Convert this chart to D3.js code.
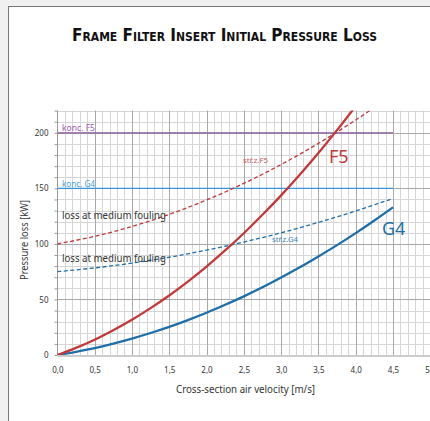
<!DOCTYPE html>
<html><head><meta charset="utf-8">
<script src="https://cdn.jsdelivr.net/npm/d3@7/dist/d3.min.js"></script>
<style>html,body{margin:0;padding:0;background:#f0f0f0;}svg{display:block;}</style>
</head><body>
<svg id="c" width="430" height="421"></svg>
<script>
const velocity = [0,0.25,0.5,0.75,1.0,1.25,1.5,1.75,2.0,2.25,2.5,2.75,3.0,3.25,3.5,3.75,4.0,4.25,4.5];
const f5Initial = [0,6.4,13.8,22.3,31.7,42.2,53.6,66.1,79.6,94.1,109.6,126.2,143.7,162.3,181.8,202.4,224,null,null];
const g4Initial = [0,2.9,6.2,10.3,14.8,19.8,25.3,31.4,38,45.2,52.8,60.9,69.7,78.9,88.7,98.9,109.7,121.1,133];
const f5Medium = [100,103.2,106.8,111.0,115.7,120.9,126.6,132.8,139.5,146.7,154.5,162.7,171.5,180.7,190.5,200.8,211.5,222.9,null];
const g4Medium = [75,76.6,78.4,80.4,82.7,85.3,88.0,91.1,94.4,97.9,101.7,105.7,110.0,114.6,119.4,124.4,129.6,135.2,140.9];
const kondF5 = 200, kondG4 = 150, kondEnd = 4.5;
const xTicks = [0,0.5,1.0,1.5,2.0,2.5,3.0,3.5,4.0,4.5,5.0];
const yTicks = [0,50,100,150,200];

const svg = d3.select("#c");
const x = d3.scaleLinear().domain([0,5]).range([57.3,430.3]);
const y = d3.scaleLinear().domain([0,220]).range([355,110.6]);
const font = "'Noto Sans', 'Open Sans', sans-serif";

// frame
svg.append("rect").attr("x",0).attr("y",0).attr("width",430).attr("height",421).attr("fill","#f0f0f0");
svg.append("rect").attr("x",8.5).attr("y",6.5).attr("width",440).attr("height",430).attr("fill","#fff").attr("stroke","#777").attr("stroke-width",1);

// title
svg.append("text").attr("x",72).attr("y",41).attr("textLength",305).attr("lengthAdjust","spacingAndGlyphs")
  .style("font-family","'DejaVu Sans Condensed','Liberation Sans Narrow',sans-serif").style("font-weight","bold")
  .style("font-variant","small-caps").style("font-size","17px").attr("fill","#111")
  .text("Frame Filter Insert Initial Pressure Loss");

// grid
const g = svg.append("g");
const minorX = d3.range(0,51).map(d=>d/10);
const minorY = d3.range(0,23).map(d=>d*10);
g.selectAll(".vx").data(minorX.filter(d=>Math.round(d*10)%5!==0)).join("line")
  .attr("x1",d=>Math.round(x(d))+0.5).attr("x2",d=>Math.round(x(d))+0.5).attr("y1",y(220)).attr("y2",y(0))
  .attr("stroke","#d6d6d6").attr("stroke-width",1);
g.selectAll(".hy").data(minorY.filter(d=>d%50!==0)).join("line")
  .attr("x1",x(0)).attr("x2",x(5)).attr("y1",d=>Math.round(y(d))+0.5).attr("y2",d=>Math.round(y(d))+0.5)
  .attr("stroke","#d6d6d6").attr("stroke-width",1);
g.selectAll(".vX").data(xTicks.slice(1)).join("line")
  .attr("x1",d=>Math.round(x(d))+0.5).attr("x2",d=>Math.round(x(d))+0.5).attr("y1",y(220)).attr("y2",y(0))
  .attr("stroke","#a8a8a8").attr("stroke-width",1);
g.selectAll(".hY").data(yTicks.slice(1)).join("line")
  .attr("x1",x(0)).attr("x2",x(5)).attr("y1",d=>Math.round(y(d))+0.5).attr("y2",d=>Math.round(y(d))+0.5)
  .attr("stroke","#a8a8a8").attr("stroke-width",1);

// axes
const yAxis = d3.axisLeft(y).tickValues(minorY).tickSize(3).tickFormat(d=> d%50===0 ? d : "");
const ya = svg.append("g").attr("transform",`translate(${Math.round(x(0))+0.5},0)`).call(yAxis);
ya.select(".domain").attr("stroke","#999").attr("d",`M-0,${y(220)}V${y(0)}`);
ya.selectAll(".tick line").attr("stroke","#999");
ya.selectAll("text").attr("x",-9).style("font-family",font).style("font-size","8px").attr("fill","#333");
const xAxis = d3.axisBottom(x).tickValues(xTicks).tickSize(0).tickFormat(d=>d3.format(".1f")(d).replace(".",","));
const xa = svg.append("g").attr("transform",`translate(0,${Math.round(y(0))+0.5})`).call(xAxis);
xa.select(".domain").attr("stroke","#999");
xa.selectAll("text").attr("dy","0").attr("y",17).style("font-family",font).style("font-size","8px").attr("fill","#333");

// axis labels
svg.append("text").attr("transform","translate(27.5,240) rotate(-90)").attr("text-anchor","middle")
  .attr("textLength",80).attr("lengthAdjust","spacingAndGlyphs")
  .style("font-family",font).style("font-size","10px").attr("fill","#333").text("Pressure loss [kW]");
svg.append("text").attr("x",245.5).attr("y",393).attr("text-anchor","middle")
  .attr("textLength",139).attr("lengthAdjust","spacingAndGlyphs")
  .style("font-family",font).style("font-size","10px").attr("fill","#333").text("Cross-section air velocity [m/s]");

// clip
svg.append("clipPath").attr("id","pc").append("rect").attr("x",x(0)).attr("y",y(220)).attr("width",x(5)-x(0)).attr("height",y(0)-y(220));
const plot = svg.append("g").attr("clip-path","url(#pc)");

// limit lines
plot.append("line").attr("x1",x(0)).attr("x2",x(kondEnd)).attr("y1",y(kondF5)).attr("y2",y(kondF5)).attr("stroke","#8a559f").attr("stroke-width",1.3);
plot.append("line").attr("x1",x(0)).attr("x2",x(kondEnd)).attr("y1",y(kondG4)).attr("y2",y(kondG4)).attr("stroke","#3793dc").attr("stroke-width",1.3);

const line = d3.line().defined(d=>d[1]!==null).x(d=>x(d[0])).y(d=>y(d[1])).curve(d3.curveMonotoneX);
const pts = arr => velocity.map((v,i)=>[v,arr[i]]);
plot.append("path").attr("d",line(pts(f5Medium))).attr("fill","none").attr("stroke","#c0393b").attr("stroke-width",1.3).attr("stroke-dasharray","4,2.5");
plot.append("path").attr("d",line(pts(g4Medium))).attr("fill","none").attr("stroke","#1f6ea8").attr("stroke-width",1.3).attr("stroke-dasharray","4,2.5");
plot.append("path").attr("d",line(pts(g4Initial))).attr("fill","none").attr("stroke","#1f6ea8").attr("stroke-width",2.3);
plot.append("path").attr("d",line(pts(f5Initial))).attr("fill","none").attr("stroke","#c0393b").attr("stroke-width",2.3);

// labels
const lab = (t,xx,yy,size,col,len)=>{const s=svg.append("text").attr("x",xx).attr("y",yy).style("font-family",font).style("font-size",size).attr("fill",col).text(t); if(len) s.attr("textLength",len).attr("lengthAdjust","spacingAndGlyphs"); return s;};
lab("konc. F5",62,131,"8.5px","#9b5cb5",33);
lab("konc. G4",62,187,"8.5px","#47a0e0",33);
lab("loss at medium fouling",62,219,"10.5px","#333",104);
lab("loss at medium fouling",62,262,"10.5px","#333",104);
lab("stř.z.F5",243,163,"7.5px","#cf5a5a",25);
lab("stř.z.G4",272,242,"7.5px","#3a86c0",26);
lab("F5",329,163,"18px","#c0393b");
lab("G4",382,235,"18px","#1f6ea8");
</script>
</body></html>
